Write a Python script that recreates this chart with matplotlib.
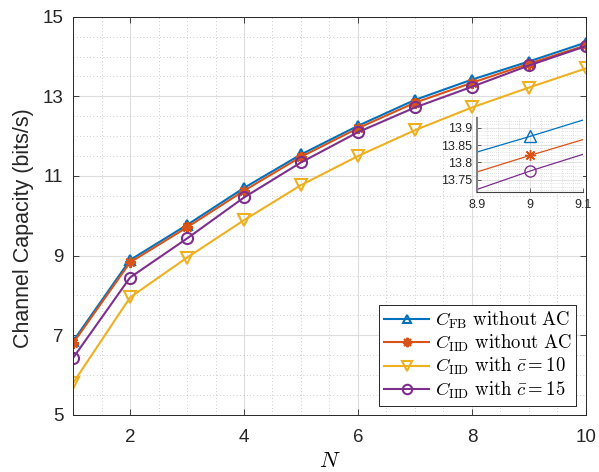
import numpy as np
import matplotlib.pyplot as plt
from matplotlib.ticker import MultipleLocator

plt.rcParams['font.family'] = ['Liberation Sans', 'DejaVu Sans']
plt.rcParams['mathtext.fontset'] = 'cm'

# Capacity vs number of antennas N
N = np.arange(1, 11)
cap_fb = [6.85, 8.89, 9.77, 10.70, 11.54, 12.26, 12.91, 13.42, 13.875, 14.35]
cap_iid = [6.80, 8.83, 9.71, 10.63, 11.48, 12.20, 12.84, 13.34, 13.82, 14.28]
cap_c10 = [5.80, 7.95, 8.95, 9.89, 10.77, 11.50, 12.15, 12.72, 13.22, 13.70]
cap_c15 = [6.43, 8.45, 9.43, 10.46, 11.34, 12.10, 12.72, 13.24, 13.775, 14.26]

labels = [r'$C_{\mathrm{FB}}\ \mathrm{without\ AC}$',
          r'$C_{\mathrm{IID}}\ \mathrm{without\ AC}$',
          r'$C_{\mathrm{IID}}\ \mathrm{with}\ \bar{c}=10$',
          r'$C_{\mathrm{IID}}\ \mathrm{with}\ \bar{c}=15$']

# MATLAB default line colours
blue, orange, yellow, purple = '#0072BD', '#D95319', '#EDB120', '#7E2F8E'
styles = [
    dict(color=blue, marker='^', ms=7.5, mfc='none'),
    dict(color=orange, marker=(8, 2, 0), ms=8),
    dict(color=yellow, marker='v', ms=8, mfc='none'),
    dict(color=purple, marker='o', ms=8, mfc='none'),
]
series = [cap_fb, cap_iid, cap_c10, cap_c15]

fig = plt.figure(figsize=(5.99, 4.72), dpi=100)
ax = fig.add_axes([0.122, 0.121, 0.856, 0.8436])

for y, lab, st in zip(series, labels, styles):
    ax.plot(N, y, lw=1.5, mew=1.5, label=lab, **st)

ax.set_xlim(1, 10)
ax.set_ylim(5, 15)
ax.set_xticks([2, 4, 6, 8, 10])
ax.set_yticks([5, 7, 9, 11, 13, 15])
ax.xaxis.set_minor_locator(MultipleLocator(0.5))
ax.yaxis.set_minor_locator(MultipleLocator(0.5))
ax.grid(True, which='major', color='#dddddd', lw=0.8)
ax.grid(True, which='minor', color='#bbbbbb', lw=0.6, ls=(0, (1, 3)))
ax.set_axisbelow(True)
ax.tick_params(which='major', direction='in', top=True, right=True,
               length=4, width=0.6, labelsize=13.5, colors='#262626')
ax.tick_params(axis='x', which='major', pad=10)
ax.tick_params(axis='y', which='major', pad=7)
ax.tick_params(which='minor', length=0)
for s in ax.spines.values():
    s.set_color('#262626')
    s.set_linewidth(0.7)

ax.set_xlabel(r'$N$', fontsize=16, labelpad=4)
ax.set_ylabel('Channel Capacity (bits/s)', fontsize=15.5, color='#262626')
ax.yaxis.set_label_coords(-0.077, 0.47)

leg = ax.legend(loc='lower right', fontsize=13.5, handlelength=2.4,
                fancybox=False, framealpha=1, edgecolor='#262626',
                borderpad=0.25, labelspacing=0.12, handletextpad=0.3,
                borderaxespad=0.5, markerscale=0.85)
leg.get_frame().set_linewidth(0.7)

# Zoomed view around N = 9
axin = fig.add_axes([0.796, 0.593, 0.178, 0.157])
for y, st in zip([cap_fb, cap_iid, cap_c15], [styles[0], styles[1], styles[3]]):
    st = dict(st)
    st['ms'] = 8
    axin.plot(N, y, lw=0.9, mew=1.0, markevery=[8], **st)
axin.set_xlim(8.9, 9.1)
axin.set_ylim(13.714, 13.928)
axin.set_xticks([8.9, 9, 9.1])
axin.set_xticklabels(['8.9', '9', '9.1'])
axin.set_yticks([13.75, 13.8, 13.85, 13.9])
axin.set_yticklabels(['13.75', '13.8', '13.85', '13.9'])
axin.xaxis.set_minor_locator(MultipleLocator(0.02))
axin.yaxis.set_minor_locator(MultipleLocator(0.01))
axin.grid(True, which='major', color='#dddddd', lw=0.6)
axin.grid(True, which='minor', color='#c8c8c8', lw=0.5, ls=(0, (1, 2)))
axin.set_axisbelow(True)
axin.tick_params(which='major', direction='in', length=3, width=0.5,
                 labelsize=9, colors='#262626')
axin.tick_params(axis='x', which='major', pad=5)
axin.tick_params(which='minor', length=0)
axin.spines['top'].set_visible(False)
axin.spines['right'].set_visible(False)
axin.spines['left'].set_color('#808080')
axin.spines['left'].set_linewidth(1.5)
axin.spines['bottom'].set_color('#404040')
axin.spines['bottom'].set_linewidth(0.8)

fig.savefig('out.png', dpi=100)
